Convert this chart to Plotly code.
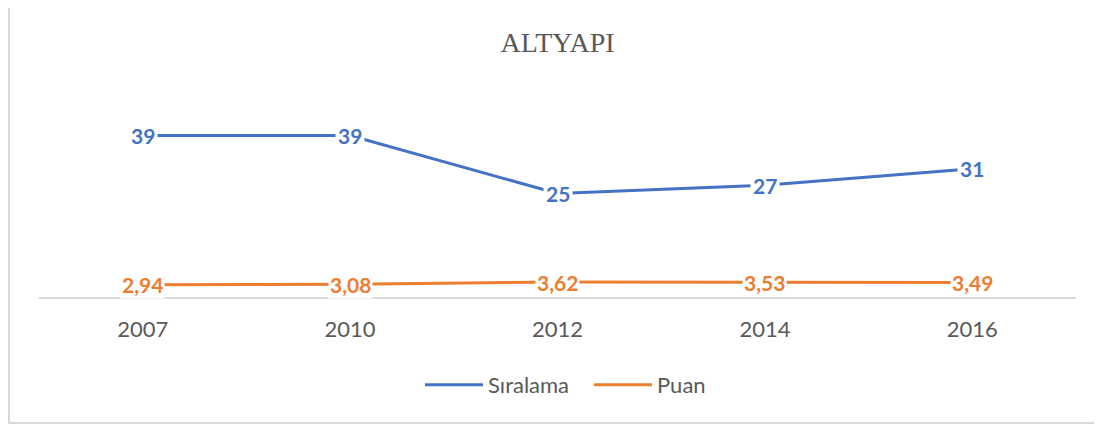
import plotly.graph_objects as go

# ~~~DATA~~~
years = ["2007", "2010", "2012", "2014", "2016"]
siralama = [39, 39, 25, 27, 31]
puan = [2.94, 3.08, 3.62, 3.53, 3.49]

BLUE = "#4472C4"
ORANGE = "#ED7D31"
GRAY = "#595959"

# page body has an 8px margin, so the figure is laid out in page pixels minus 8
OFF = 8
W, H = 1102 - OFF, 425 - OFF
L, R, T, B = 39 - OFF, 26, 90 - OFF, 128
pw, ph = W - L - R, H - T - B

def px_x(p):  # page pixel -> paper x
    return (p - OFF - L) / pw

def px_y(p):  # page pixel -> paper y
    return (H - B - (p - OFF)) / ph

fig = go.Figure()
fig.add_trace(go.Scatter(x=years, y=siralama, name="Sıralama", mode="lines",
                         line={"color": BLUE, "width": 3}))
fig.add_trace(go.Scatter(x=years, y=puan, name="Puan", mode="lines",
                         line={"color": ORANGE, "width": 3}))

# Data labels centred on points (category index), white box hides line underneath
annotations = [dict(x=i, y=v, text=str(v), showarrow=False, bgcolor="white", borderpad=2,
                    font=dict(family="Lato", size=21, color=BLUE, weight="bold"))
               for i, v in enumerate(siralama)]
annotations += [dict(x=i, y=v, text=f"{v:.2f}".replace(".", ","), showarrow=False,
                     bgcolor="white", borderpad=1,
                     font=dict(family="Lato", size=21, color=ORANGE, weight="bold"))
                for i, v in enumerate(puan)]

fig.update_layout(
    width=W, height=H,
    margin=dict(l=L, r=R, t=T, b=B),
    paper_bgcolor="white", plot_bgcolor="white",
    title=dict(text="ALTYAPI", x=0.5, xref="paper", y=1 - (42 - OFF) / H, yanchor="middle",
               font=dict(family="Liberation Serif", size=28, color=GRAY)),
    xaxis=dict(type="category", range=[-0.5, 4.5], showgrid=False, showline=True,
               linecolor="#D9D9D9", linewidth=2, ticks="", ticklabelstandoff=12,
               tickfont=dict(family="Lato", size=22, color=GRAY)),
    yaxis=dict(range=[0, 50], visible=False),
    legend=dict(orientation="h", x=px_x(420), xanchor="left", y=px_y(385), yanchor="middle",
                font=dict(family="Lato", size=22, color=GRAY), itemwidth=58,
                entrywidth=96),
    annotations=annotations,
    shapes=[dict(type="rect", xref="paper", yref="paper", x0=px_x(9), x1=px_x(1115),
                 y0=px_y(423), y1=px_y(5), line=dict(color="#D9D9D9", width=2),
                 layer="below")],
)

fig.write_html("out.html")
